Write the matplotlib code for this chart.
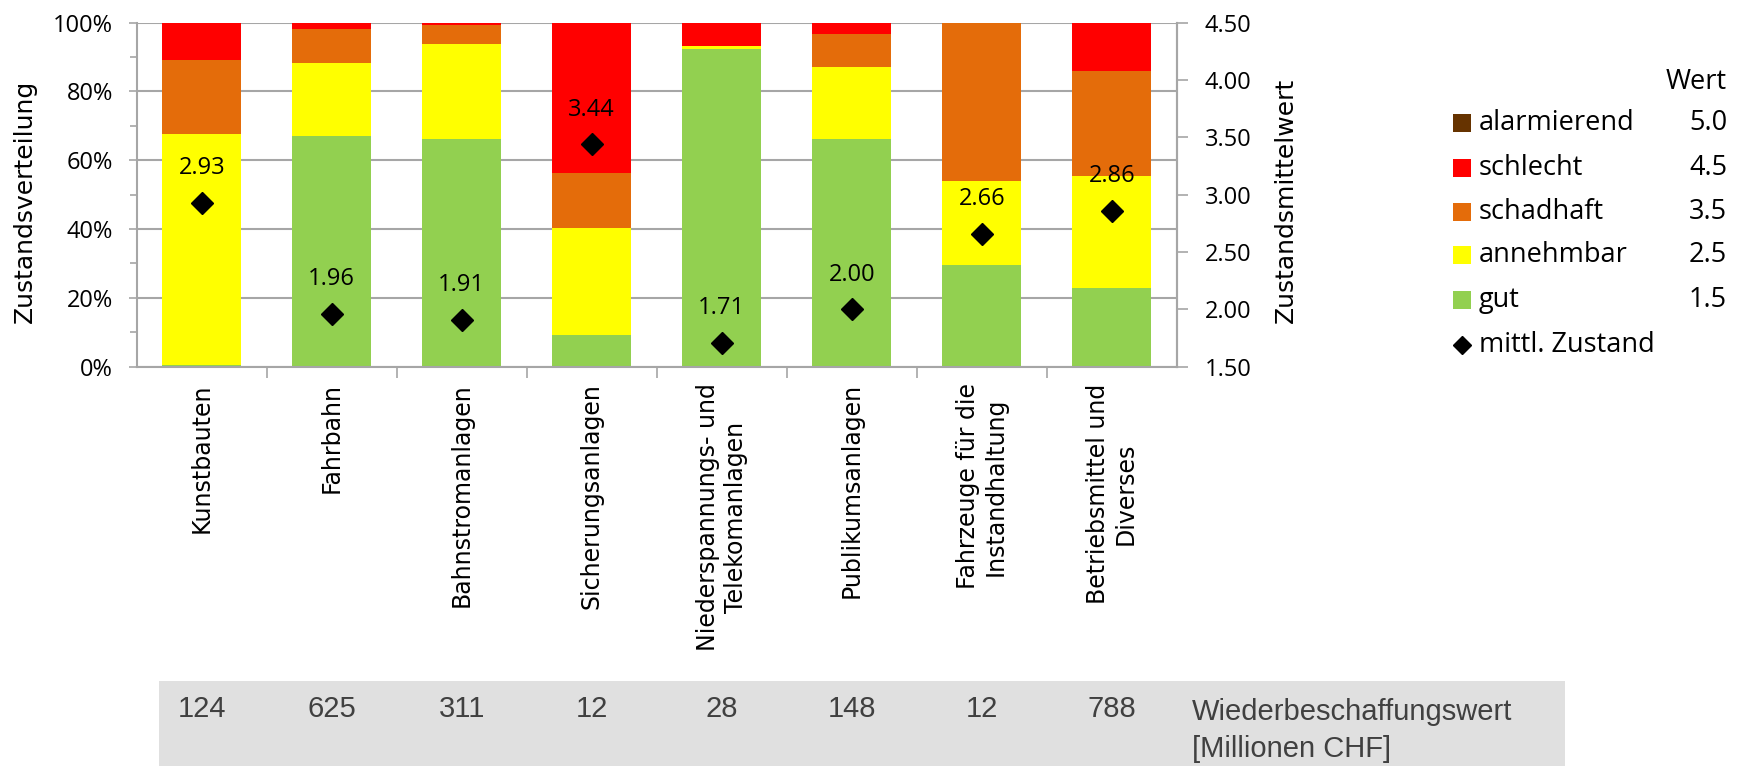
import matplotlib
matplotlib.use("Agg")
import matplotlib.pyplot as plt
import numpy as np
from matplotlib.patches import Rectangle
from matplotlib.lines import Line2D
from matplotlib.transforms import blended_transform_factory

categories = ["Kunstbauten", "Fahrbahn", "Bahnstromanlagen", "Sicherungsanlagen",
              "Niederspannungs- und\nTelekomanlagen", "Publikumsanlagen",
              "Fahrzeuge für die\nInstandhaltung", "Betriebsmittel und\nDiverses"]
gut = [0.5, 67.0, 66.1, 9.1, 92.4, 66.2, 29.6, 22.9]
annehmbar = [67.2, 21.4, 27.7, 31.3, 0.8, 20.9, 24.3, 32.5]
schadhaft = [21.4, 9.9, 5.5, 15.9, 0.0, 9.5, 46.1, 30.6]
schlecht = [10.9, 1.7, 0.7, 43.7, 6.8, 3.4, 0.0, 14.0]
alarmierend = [0, 0, 0, 0, 0, 0, 0, 0]
mittl_zustand = [2.93, 1.96, 1.91, 3.44, 1.71, 2.00, 2.66, 2.86]
wiederbeschaffungswert = [124, 625, 311, 12, 28, 148, 12, 788]

legend_labels = ["alarmierend", "schlecht", "schadhaft", "annehmbar", "gut"]
legend_values = ["5.0", "4.5", "3.5", "2.5", "1.5"]
colors = {"gut": "#92D050", "annehmbar": "#FFFF00", "schadhaft": "#E46C0A",
          "schlecht": "#FF0000", "alarmierend": "#663300"}

W, H = 1746, 766
fig = plt.figure(figsize=(W / 100, H / 100), dpi=100)

def fx(px):
    return px / W

def fy(py):
    return 1 - py / H

gray = "#A6A6A6"
tick_font = "Open Sans"

ax = fig.add_axes([fx(136.7), fy(366.7), fx(1176.7) - fx(136.7), fy(22.7) - fy(366.7)])
x = np.arange(len(categories))
bw = 0.61
bottom = np.zeros(len(categories))
series = [("gut", gut), ("annehmbar", annehmbar), ("schadhaft", schadhaft),
          ("schlecht", schlecht), ("alarmierend", alarmierend)]
for name, vals in series:
    v = np.array(vals, dtype=float)
    ax.bar(x, v, bw, bottom=bottom, color=colors[name], linewidth=0, zorder=2)
    bottom += v

ax.set_xlim(-0.5, len(categories) - 0.5)
ax.set_ylim(0, 100)
ax.set_axisbelow(True)
ax.set_yticks(np.arange(0, 101, 20))
ax.set_yticks(np.arange(10, 100, 20), minor=True)
ax.set_yticklabels([f"{v}%" for v in range(0, 101, 20)], fontfamily=tick_font, fontsize=17)
ax.yaxis.grid(True, which="major", color=gray, linewidth=1.5)
ax.tick_params(axis="y", which="major", length=6, width=1.2, color=gray, pad=11)
ax.tick_params(axis="y", which="minor", length=5, width=1.2, color=gray)
ax.set_xticks(x)
ax.set_xticklabels(categories, rotation=90, ha="center", va="top",
                   fontfamily="DejaVu Sans", fontsize=17, multialignment="center")
ax.set_xticks(np.arange(0.5, len(categories) - 0.5, 1), minor=True)
ax.tick_params(axis="x", which="major", length=0, pad=12)
ax.tick_params(axis="x", which="minor", length=8, width=1.2, color=gray)
for s in ["left", "bottom", "right"]:
    ax.spines[s].set_color(gray)
    ax.spines[s].set_linewidth(1.5)
ax.spines["top"].set_visible(False)

ax2 = ax.twinx()
ax2.set_ylim(1.5, 4.5)
ax2.set_yticks(np.arange(1.5, 4.51, 0.5))
ax2.set_yticklabels([f"{v:.2f}" for v in np.arange(1.5, 4.51, 0.5)], fontfamily=tick_font, fontsize=17)
ax2.tick_params(axis="y", length=8, width=1.2, color=gray, pad=12)
for s in ["left", "bottom", "right", "top"]:
    ax2.spines[s].set_visible(False)
ax2.spines["right"].set_visible(True)
ax2.spines["right"].set_color(gray)
ax2.spines["right"].set_linewidth(1.5)
ax2.plot(x, mittl_zustand, linestyle="none", marker="D", markersize=11.5,
         color="black", zorder=5)
for xi, m in zip(x, mittl_zustand):
    ax2.annotate(f"{m:.2f}", (xi, m), xytext=(0, 25), textcoords="offset points",
                 ha="center", va="center", fontfamily=tick_font, fontsize=17, color="black")

# axis titles
fig.text(fx(25), fy(201), "Zustandsverteilung", rotation=90, ha="center", va="center",
         fontfamily="DejaVu Sans", fontsize=18)
fig.text(fx(1286), fy(200), "Zustandsmittelwert", rotation=90, ha="center", va="center",
         fontfamily="DejaVu Sans", fontsize=18)

# legend
leg_font = "Open Sans"
leg_size = 19.5
fig.text(fx(1727), fy(82), "Wert", ha="right", va="center", fontfamily=leg_font, fontsize=leg_size)
row_y = [123, 168, 212, 255, 300]
for lab, val, ry in zip(legend_labels, legend_values, row_y):
    fig.patches.append(Rectangle((fx(1453), fy(ry + 9)), fx(18), 18 / H,
                                 transform=fig.transFigure, facecolor=colors[lab],
                                 edgecolor="none"))
    fig.text(fx(1479), fy(ry), lab, ha="left", va="center", fontfamily=leg_font, fontsize=leg_size)
    fig.text(fx(1727), fy(ry), val, ha="right", va="center", fontfamily=leg_font, fontsize=leg_size)
fig.lines.append(Line2D([fx(1462)], [fy(345)], transform=fig.transFigure, marker="D",
                        markersize=9, color="black", linestyle="none"))
fig.text(fx(1479), fy(345), "mittl. Zustand", ha="left", va="center", fontfamily=leg_font, fontsize=leg_size)

# table band
fig.patches.append(Rectangle((fx(159), 0), fx(1565) - fx(159), 85 / H,
                             transform=fig.transFigure, facecolor="#E0E0E0",
                             edgecolor="none", zorder=0))
trans = blended_transform_factory(ax.transData, fig.transFigure)
for xi, v in zip(x, wiederbeschaffungswert):
    fig.text(xi, fy(709), str(v), transform=trans, ha="center", va="center",
             fontfamily="Liberation Sans", fontsize=21, color="#404040")
fig.text(fx(1192), fy(720), "Wiederbeschaffungswert", ha="left", va="baseline",
         fontfamily="Liberation Sans", fontsize=21, color="#404040")
fig.text(fx(1192), fy(757), "[Millionen CHF]", ha="left", va="baseline",
         fontfamily="Liberation Sans", fontsize=21, color="#404040")

fig.savefig("out.png", dpi=100)
